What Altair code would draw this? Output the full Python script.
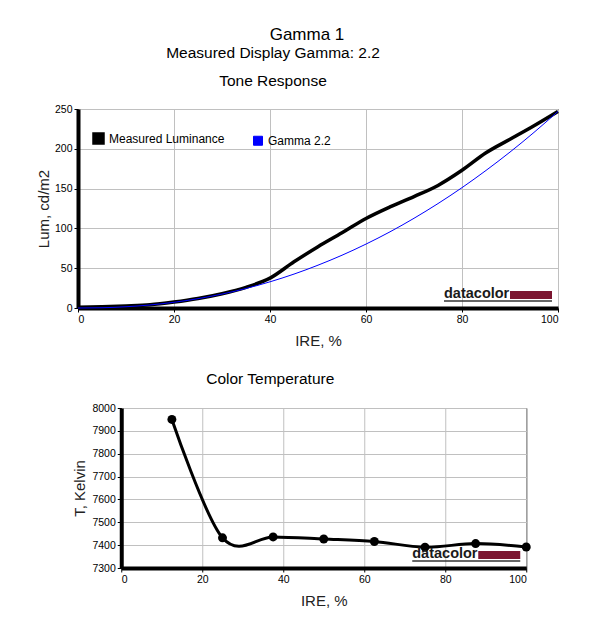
import altair as alt
import pandas as pd

# ---------------- data ----------------
ire = [0, 5, 10, 15, 20, 25, 30, 35, 40, 45, 50, 55, 60, 65, 70, 75, 80, 85, 90, 95, 100]
measured = [1, 1.5, 2.5, 4, 7.5, 12, 18, 26, 37.5, 58, 77, 94.5, 112.5, 127, 140, 154, 173, 195, 212, 229, 247]
gamma22 = [0, 0.3, 1.6, 3.8, 7.2, 11.7, 17.5, 24.5, 32.9, 42.6, 53.8, 66.3, 80.3, 95.7, 112.7, 131.2, 151.2, 172.8, 195.9, 220.6, 247]
series_names = ["Measured Luminance", "Gamma 2.2"]
series_colors = ["#000000", "#0000ff"]

ct_ire = [12.5, 25, 37.5, 50, 62.5, 75, 87.5, 100]
ct_kelvin = [7950, 7432, 7436, 7427, 7416, 7391, 7407, 7392]

x_ticks = [0, 20, 40, 60, 80, 100]
lum_ticks = [0, 50, 100, 150, 200, 250]
k_ticks = [7300, 7400, 7500, 7600, 7700, 7800, 7900, 8000]

main_title = "Gamma 1"
sub_title = "Measured Display Gamma: 2.2"
top_title = "Tone Response"
bottom_title = "Color Temperature"
logo_text = ["datacolor"]

FONT = "Liberation Sans"

# ---------------- tables ----------------
tone = pd.DataFrame({
    "IRE": ire * 2,
    "value": measured + gamma22,
    "series": [series_names[0]] * len(ire) + [series_names[1]] * len(ire),
})
ct = pd.DataFrame({"IRE": ct_ire, "K": ct_kelvin})
logo = pd.DataFrame({"t": logo_text})

color_scale = alt.Scale(domain=series_names, range=series_colors)


def axis_x():
    return alt.Axis(values=x_ticks, title="IRE, %", format="d", labelPadding=2, titlePadding=9)


def logo_layers(W, H):
    txt = alt.Chart(logo).mark_text(
        font=FONT, fontSize=14.5, fontWeight="bold", align="left", baseline="alphabetic", color="#1a1a1a"
    ).encode(x=alt.value(W - 114), y=alt.value(H - 10), text="t:N")
    bar = alt.Chart(logo).mark_rect(color="#7b1530").encode(
        x=alt.value(W - 48), x2=alt.value(W - 6), y=alt.value(H - 17), y2=alt.value(H - 9)
    )
    line = alt.Chart(logo).mark_rule(color="#333333", strokeWidth=1.5).encode(
        x=alt.value(W - 114), x2=alt.value(W - 6), y=alt.value(H - 7)
    )
    return [line, bar, txt]


# ---------------- top chart ----------------
TW, TH = 480, 199
xt = alt.X("IRE:Q", scale=alt.Scale(domain=[0, 100], nice=False), axis=axis_x())
yt = alt.Y("value:Q", scale=alt.Scale(domain=[0, 250], nice=False),
           axis=alt.Axis(values=lum_ticks, title="Lum, cd/m2", format="d", labelPadding=2, titlePadding=3))

legend_layer = alt.Chart(tone).transform_filter("false").mark_square(filled=True, size=81, opacity=1).encode(
    x=xt, y=yt,
    color=alt.Color("series:N", scale=color_scale, legend=alt.Legend(
        orient="none", legendX=14, legendY=23, direction="horizontal", title=None,
        symbolType="square", symbolSize=81, symbolStrokeWidth=0, symbolOpacity=1, labelFont=FONT,
        labelFontSize=12, labelColor="#000000", columnPadding=26, labelOffset=4,
        padding=0, labelLimit=300,
    )),
)

lines = alt.Chart(tone).mark_line(interpolate="monotone").encode(
    x=xt, y=yt,
    color=alt.Color("series:N", scale=color_scale, legend=None),
    strokeWidth=alt.StrokeWidth("series:N", scale=alt.Scale(domain=series_names, range=[3.5, 1]), legend=None),
    order=alt.Order("IRE:Q"),
)

# white, invisible guide that widens the top panel on its right side (layout only)
right_pad = alt.Chart(logo).mark_rule(color="#ffffff", strokeWidth=1).encode(
    x=alt.value(TW + 6), x2=alt.value(TW + 17), y=alt.value(TH / 2)
)

top = alt.layer(legend_layer, lines, *logo_layers(TW, TH), right_pad).properties(
    width=TW, height=TH,
    title=alt.TitleParams(
        text=sub_title, subtitle=top_title, fontSize=15.5, subtitleFontSize=15.5, font=FONT,
        subtitleFont=FONT, fontWeight="normal", color="#000000", subtitleColor="#000000",
        anchor="middle", dx=-45, subtitlePadding=12, offset=15,
    ),
)

# ---------------- bottom chart ----------------
BW, BH = 405, 160
xb = alt.X("IRE:Q", scale=alt.Scale(domain=[0, 100], nice=False), axis=axis_x())
yb = alt.Y("K:Q", scale=alt.Scale(domain=[7300, 8000], nice=False),
           axis=alt.Axis(values=k_ticks, title="T, Kelvin", format="d", labelPadding=2, titlePadding=4))

ct_line = alt.Chart(ct).mark_line(interpolate="cardinal", color="#000000", strokeWidth=3).encode(x=xb, y=yb)
ct_pts = alt.Chart(ct).mark_circle(color="#000000", size=80, opacity=1).encode(x=xb, y=yb)

bottom = alt.layer(ct_line, ct_pts, *logo_layers(BW, BH)).properties(
    width=BW, height=BH,
    title=alt.TitleParams(
        text=bottom_title, fontSize=15.5, font=FONT, fontWeight="normal", color="#000000",
        anchor="middle", dx=-53.5, offset=16,
    ),
)

chart = alt.vconcat(top, bottom, spacing=22, center=True).properties(
    title=alt.TitleParams(text=main_title, fontSize=17, font=FONT, fontWeight="normal",
                          color="#000000", anchor="middle", dx=1, offset=2),
    padding={"left": 27, "top": 17, "right": 5, "bottom": 5},
    background="#ffffff",
).configure_view(
    stroke="#000000", strokeWidth=1
).configure_axis(
    domainColor="#000000", domainWidth=4, gridColor="#c0c0c0", gridWidth=1,
    tickColor="#000000", tickSize=4, tickWidth=1,
    labelFont=FONT, labelFontSize=10.5, labelColor="#000000",
    titleFont=FONT, titleFontSize=15, titleFontWeight="normal", titleColor="#222222",
)

chart.save("out.html", embed_options={"renderer": "svg", "actions": False})
